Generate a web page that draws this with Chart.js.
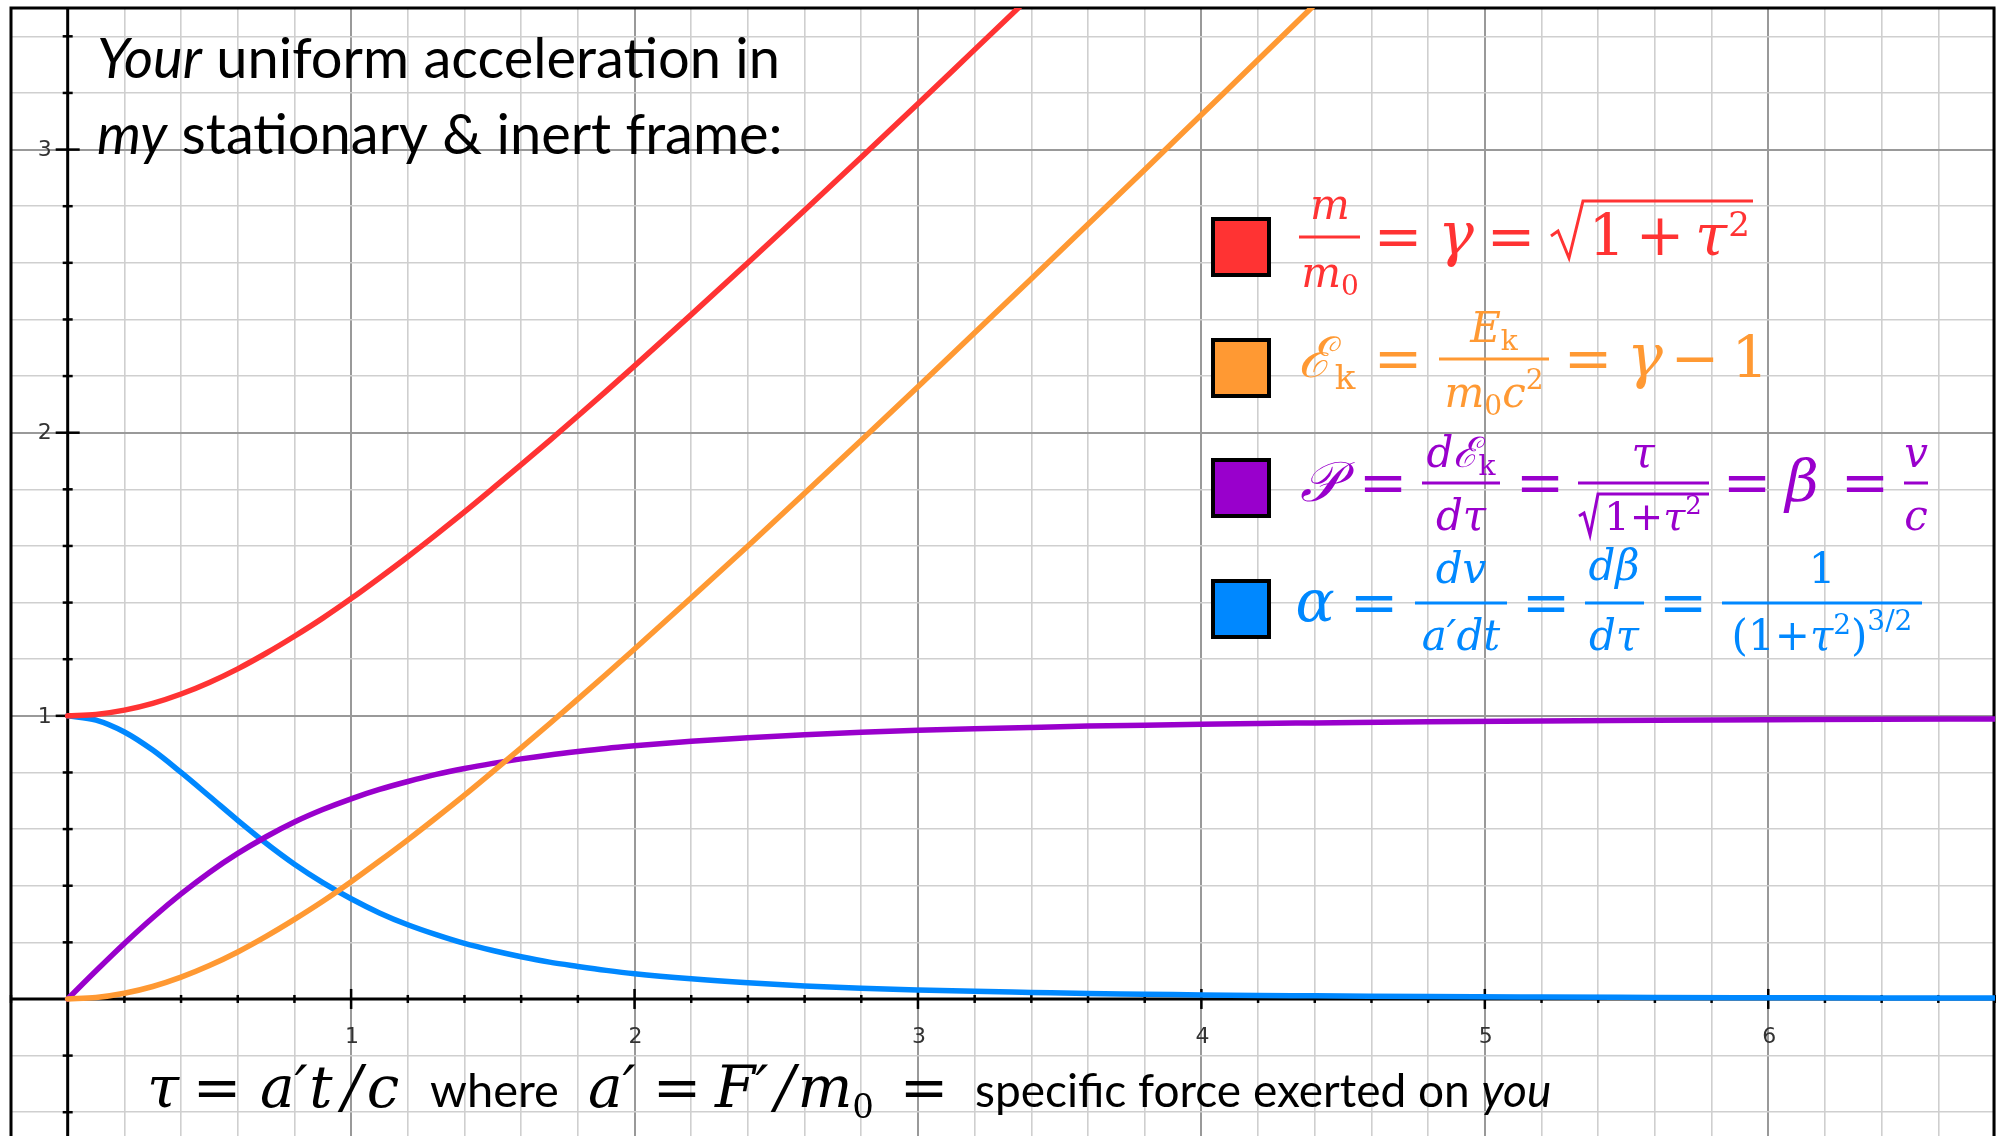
<!DOCTYPE html>
<html><head><meta charset="utf-8">
<script src="https://cdn.jsdelivr.net/npm/chart.js@4.4.1/dist/chart.umd.min.js"></script>
<style>html,body{margin:0;padding:0;background:#fff;overflow:hidden}canvas{display:block}</style>
</head><body>
<canvas id="c" width="1996" height="1136"></canvas>
<script>
// ---- data ----
const tau = [0,0.1,0.2,0.3,0.4,0.5,0.6,0.7,0.8,0.9,1.0,1.1,1.2,1.3,1.4,1.5,1.6,1.7,1.8,1.9,2.0,
  2.2,2.4,2.6,2.8,3.0,3.2,3.4,3.6,3.8,4.0,4.2,4.4,4.8,5.2,5.6,6.0,6.4,6.8];
const massRatio = [1.000,1.005,1.020,1.044,1.077,1.118,1.166,1.221,1.281,1.345,1.414,1.487,1.562,1.640,1.720,1.803,1.887,1.972,2.059,2.147,2.236,
  2.417,2.600,2.786,2.973,3.162,3.353,3.544,null,null,null,null,null,null,null,null,null,null,null];
const kineticEnergy = [0,0.005,0.020,0.044,0.077,0.118,0.166,0.221,0.281,0.345,0.414,0.487,0.562,0.640,0.720,0.803,0.887,0.972,1.059,1.147,1.236,
  1.417,1.600,1.786,1.973,2.162,2.353,2.544,2.736,2.929,3.123,3.317,3.512,null,null,null,null,null,null];
const power = [0,0.0995,0.196,0.287,0.371,0.447,0.514,0.573,0.625,0.669,0.707,0.740,0.768,0.793,0.814,0.832,0.848,0.862,0.874,0.885,0.894,
  0.910,0.923,0.933,0.942,0.949,0.954,0.959,0.964,0.967,0.970,0.973,0.975,0.979,0.982,0.984,0.986,0.988,0.989];
const accel = [1,0.985,0.943,0.879,0.800,0.716,0.631,0.550,0.476,0.411,0.354,0.304,0.262,0.227,0.196,0.171,0.149,0.130,0.115,0.101,0.089,
  0.071,0.057,0.046,0.038,0.032,0.027,0.023,0.019,0.017,0.014,0.012,0.011,0.0085,0.0067,0.0054,0.0044,0.0037,0.0031];
const seriesNames = ['m/m0 = γ', 'ℰk = γ − 1', '𝒫 = β', 'α'];
const xTickValues = [1,2,3,4,5,6];
const xTickLabels = ['1','2','3','4','5','6'];
const yTickValues = [1,2,3];
const yTickLabels = ['1','2','3'];
const titleLines = [[['Your',true],[' uniform acceleration in',false]],[['my',true],[' stationary & inert frame:',false]]];

// ---- styles ----
const COLORS = ['#ff3333','#ff9933','#9900cc','#0088ff'];
const MATH = '"DejaVu Serif"';
const mi = s => `italic ${s}px ${MATH}`;
const mr = s => `${s}px ${MATH}`;
const TXT = 'Lato';

function mk(i, arr){
  return {label: seriesNames[i], data: tau.map((t,k)=>({x:t, y:arr[k]})), borderColor: COLORS[i], backgroundColor: COLORS[i],
    borderWidth: 5.5, pointRadius: 0, pointHoverRadius: 0, fill: false, cubicInterpolationMode: 'monotone', borderCapStyle: 'round'};
}

function isMajor(v){ return Math.abs(v - Math.round(v)) < 1e-6; }
function onStep(v){ const q = v/0.2; return Math.abs(q - Math.round(q)) < 1e-6; }

function runW(ctx, parts){ let w=0; parts.forEach(p=>{ctx.font=p[1]; w+=ctx.measureText(p[0]).width;}); return w; }
function run(ctx, parts, x, y, align){
  let cx = align==='center' ? x - runW(ctx,parts)/2 : x;
  parts.forEach(p=>{ ctx.font=p[1]; ctx.textAlign='left'; ctx.fillText(p[0], cx, y + (p[2]||0)); cx += ctx.measureText(p[0]).width; });
}
function tok(ctx, t, f, x, y){ ctx.font=f; ctx.textAlign='center'; ctx.fillText(t, x, y); }
function bar(ctx, x1, x2, y){ ctx.fillRect(x1, y-1.5, x2-x1, 3); }
function radical(ctx, pts){ ctx.beginPath(); ctx.moveTo(pts[0][0],pts[0][1]); for(let i=1;i<pts.length;i++) ctx.lineTo(pts[i][0],pts[i][1]); ctx.lineWidth=3; ctx.lineJoin='miter'; ctx.stroke(); }

const axesPlugin = {
  id: 'axesPlugin',
  beforeDatasetsDraw(chart){
    const ctx = chart.ctx, xs = chart.scales.x, ys = chart.scales.y, a = chart.chartArea;
    ctx.save();
    const x0 = xs.getPixelForValue(0), y0 = ys.getPixelForValue(0);
    ctx.strokeStyle = '#000';
    ctx.lineWidth = 3;
    ctx.strokeRect(a.left, a.top, a.right - a.left - 1, a.bottom - a.top + 10);
    ctx.beginPath(); ctx.moveTo(a.left, y0); ctx.lineTo(a.right, y0); ctx.stroke();
    ctx.beginPath(); ctx.moveTo(x0, a.top); ctx.lineTo(x0, a.bottom); ctx.stroke();
    ctx.lineWidth = 2.5;
    xs.ticks.forEach(t=>{ if (Math.abs(t.value) < 1e-6) return; const px = xs.getPixelForValue(t.value); const L = isMajor(t.value)?10:4;
      ctx.beginPath(); ctx.moveTo(px, y0-L); ctx.lineTo(px, y0+L); ctx.stroke(); });
    ys.ticks.forEach(t=>{ if (Math.abs(t.value) < 1e-6) return; const py = ys.getPixelForValue(t.value); const L = isMajor(t.value)?12:5;
      ctx.beginPath(); ctx.moveTo(x0-L, py); ctx.lineTo(x0+L, py); ctx.stroke(); });
    ctx.fillStyle = '#333'; ctx.font = '22px "DejaVu Sans"';
    ctx.textAlign = 'center'; ctx.textBaseline = 'alphabetic';
    xTickValues.forEach((v,i)=>{ ctx.fillText(xTickLabels[i], xs.getPixelForValue(v)+1, y0 + 44); });
    ctx.textAlign = 'right'; ctx.textBaseline = 'middle';
    yTickValues.forEach((v,i)=>{ ctx.fillText(yTickLabels[i], x0 - 16, ys.getPixelForValue(v)+1); });
    ctx.restore();
  },
  afterDraw(chart){
    const ctx = chart.ctx;
    ctx.save();
    ctx.textBaseline = 'alphabetic';
    ctx.fillStyle = '#000';
    titleLines.forEach((ln, i)=>{
      run(ctx, ln.map(s=>[s[0], (s[1]?'italic ':'') + `56px ${TXT}`]), 97, 78 + i*76, 'left');
    });
    const sq = [[1213,219],[1213,340],[1213,460],[1213,581]];
    chart.data.datasets.forEach((d,i)=>{
      ctx.fillStyle = d.borderColor; ctx.fillRect(sq[i][0], sq[i][1], 56, 56);
      ctx.strokeStyle = '#000'; ctx.lineWidth = 4; ctx.strokeRect(sq[i][0], sq[i][1], 56, 56);
    });
    // row 1
    let c = COLORS[0]; ctx.fillStyle = c; ctx.strokeStyle = c;
    bar(ctx, 1299, 1360, 237);
    run(ctx, [['m', mi(42)]], 1330, 219, 'center');
    run(ctx, [['m', mi(42)], ['0', mr(28), 8]], 1330, 287, 'center');
    tok(ctx, '=', mr(58), 1398, 256);
    tok(ctx, 'γ', mi(60), 1456, 255);
    tok(ctx, '=', mr(58), 1511, 256);
    radical(ctx, [[1551,236],[1558,231],[1569,258],[1583,201],[1753,201]]);
    tok(ctx, '1', mr(58), 1607, 255);
    tok(ctx, '+', mr(58), 1660, 255);
    tok(ctx, 'τ', mi(58), 1711, 255);
    tok(ctx, '2', mr(34), 1739, 236);
    // row 2
    c = COLORS[1]; ctx.fillStyle = c; ctx.strokeStyle = c;
    tok(ctx, 'ℰ', mi(56), 1315, 377);
    tok(ctx, 'k', mr(34), 1345, 389);
    tok(ctx, '=', mr(58), 1398, 378);
    bar(ctx, 1439, 1549, 359);
    run(ctx, [['E', mi(42)], ['k', mr(28), 8]], 1494, 342, 'center');
    run(ctx, [['m', mi(42)], ['0', mr(28), 8], ['c', mi(42)], ['2', mr(28), -18]], 1494, 407, 'center');
    tok(ctx, '=', mr(58), 1588, 378);
    tok(ctx, 'γ', mi(60), 1645, 377);
    tok(ctx, '−', mr(58), 1695, 378);
    tok(ctx, '1', mr(58), 1750, 377);
    // row 3
    c = COLORS[2]; ctx.fillStyle = c; ctx.strokeStyle = c;
    tok(ctx, '𝒫', mi(56), 1320, 501);
    tok(ctx, '=', mr(58), 1383, 502);
    bar(ctx, 1422, 1500, 483);
    run(ctx, [['d', mi(42)], ['ℰ', mi(42)], ['k', mr(28), 8]], 1461, 467, 'center');
    run(ctx, [['dτ', mi(42)]], 1461, 530, 'center');
    tok(ctx, '=', mr(58), 1540, 502);
    bar(ctx, 1578, 1709, 483);
    run(ctx, [['τ', mi(42)]], 1643, 467, 'center');
    radical(ctx, [[1579,516],[1584,513],[1590,535],[1598,494],[1709,494]]);
    run(ctx, [['1+', mr(40)], ['τ', mi(40)], ['2', mr(26), -16]], 1653, 530, 'center');
    tok(ctx, '=', mr(58), 1747, 502);
    tok(ctx, 'β', mi(58), 1802, 501);
    tok(ctx, '=', mr(58), 1865, 502);
    bar(ctx, 1904, 1928, 483);
    run(ctx, [['v', mi(42)]], 1916, 467, 'center');
    run(ctx, [['c', mi(42)]], 1916, 530, 'center');
    // row 4
    c = COLORS[3]; ctx.fillStyle = c; ctx.strokeStyle = c;
    tok(ctx, 'α', mi(58), 1315, 621);
    tok(ctx, '=', mr(58), 1374, 622);
    bar(ctx, 1415, 1507, 603);
    run(ctx, [['dv', mi(42)]], 1461, 583, 'center');
    run(ctx, [['a′dt', mi(42)]], 1461, 650, 'center');
    tok(ctx, '=', mr(58), 1546, 622);
    bar(ctx, 1585, 1644, 603);
    run(ctx, [['dβ', mi(42)]], 1614, 580, 'center');
    run(ctx, [['dτ', mi(42)]], 1614, 650, 'center');
    tok(ctx, '=', mr(58), 1683, 622);
    bar(ctx, 1722, 1922, 603);
    run(ctx, [['1', mr(42)]], 1822, 583, 'center');
    run(ctx, [['(1+', mr(42)], ['τ', mi(42)], ['2', mr(28), -16], [')', mr(42)], ['3/2', mr(28), -20]], 1822, 650, 'center');
    // bottom label
    ctx.fillStyle = '#000';
    const B = 1107;
    tok(ctx, 'τ', mi(58), 163, B);
    tok(ctx, '=', mr(58), 217, B);
    run(ctx, [['a′', mi(58)]], 260, B, 'left');
    tok(ctx, 't', mi(58), 321, B);
    tok(ctx, '/', mi(58), 352, B);
    tok(ctx, 'c', mi(58), 383, B);
    run(ctx, [['where', `47px ${TXT}`]], 430, B, 'left');
    run(ctx, [['a′', mi(58)]], 588, B, 'left');
    tok(ctx, '=', mr(58), 677, B);
    run(ctx, [['F′', mi(58)]], 715, B, 'left');
    tok(ctx, '/', mi(58), 785, B);
    tok(ctx, 'm', mi(58), 825, B);
    tok(ctx, '0', mr(34), 863, B + 11);
    tok(ctx, '=', mr(58), 924, B);
    run(ctx, [['specific force exerted on ', `46px ${TXT}`], ['you', `italic 46px ${TXT}`]], 975, B, 'left');
    ctx.restore();
  }
};

new Chart(document.getElementById('c'), {
  type: 'line',
  data: { datasets: [mk(0, massRatio), mk(1, kineticEnergy), mk(2, power), mk(3, accel)] },
  options: {
    responsive: false, animation: false, events: [],
    layout: { padding: { left: 11, top: 8, right: 1, bottom: 0 } },
    plugins: { legend: { display: false }, tooltip: { enabled: false }, title: { display: false } },
    scales: {
      x: { type: 'linear', min: -0.2, max: 6.8,
        ticks: { display: false, stepSize: 0.2 }, border: { display: false },
        grid: { drawTicks: false, color: c => isMajor(c.tick.value) ? '#999' : '#cfcfcf', lineWidth: c => isMajor(c.tick.value) ? 2 : 1.6 },
        afterBuildTicks: s => { s.ticks = s.ticks.filter(t => onStep(t.value)); } },
      y: { type: 'linear', min: -0.484, max: 3.5,
        ticks: { display: false, stepSize: 0.2 }, border: { display: false },
        grid: { drawTicks: false, color: c => isMajor(c.tick.value) ? '#999' : '#cfcfcf', lineWidth: c => isMajor(c.tick.value) ? 2 : 1.6 },
        afterBuildTicks: s => { s.ticks = s.ticks.filter(t => onStep(t.value)); } }
    }
  },
  plugins: [axesPlugin]
});
</script>
</body></html>
